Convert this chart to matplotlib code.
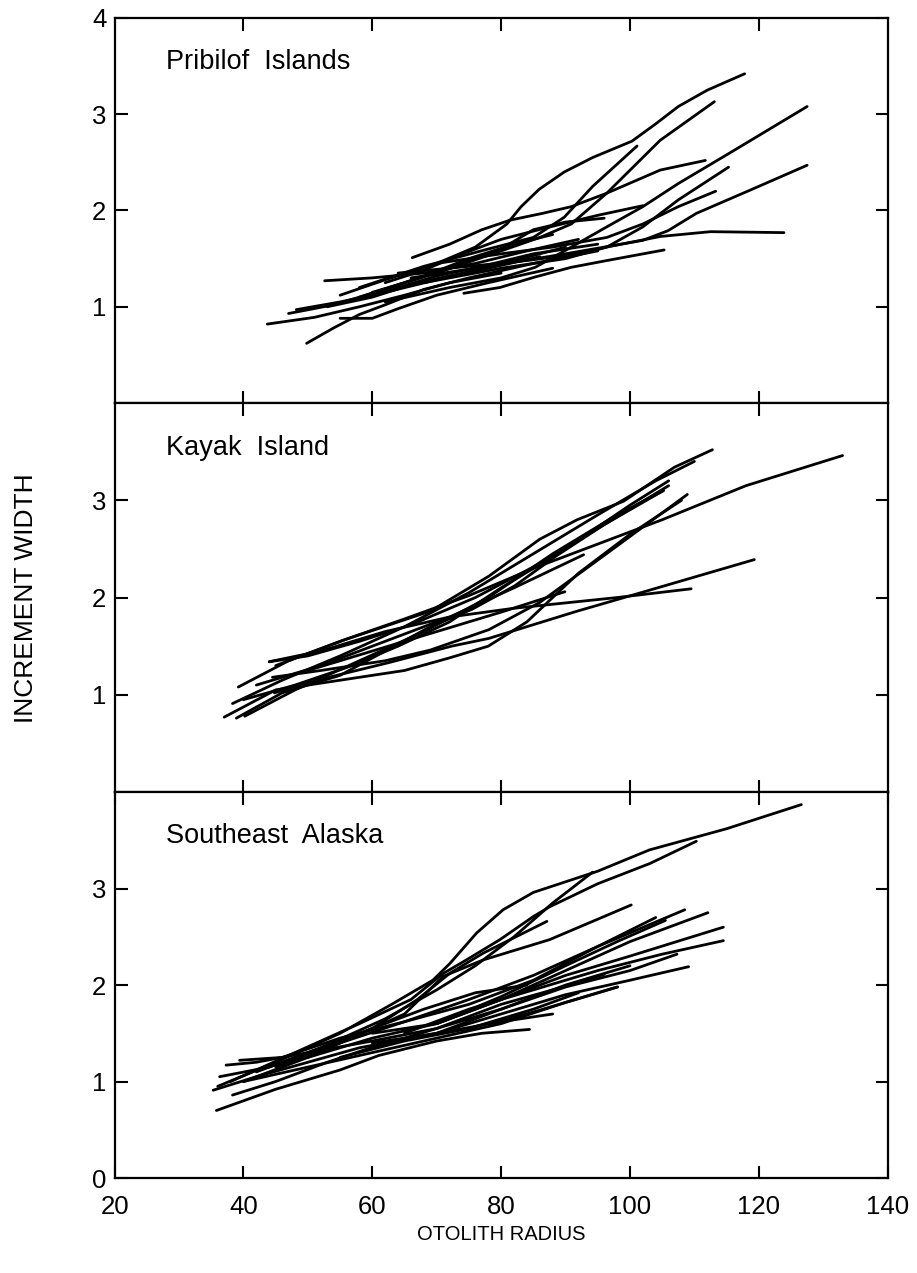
"""Otolith increment width vs otolith radius, three regions stacked."""
import matplotlib
matplotlib.use("Agg")
import matplotlib.pyplot as plt

plt.rcParams["font.family"] = ["Liberation Sans", "DejaVu Sans"]

# ---- data -------------------------------------------------------------------
X_TICKS = [20, 40, 60, 80, 100, 120, 140]
PANEL_NAMES = ["Pribilof Islands", "Kayak Island", "Southeast Alaska"]
Y_TICKS = [[1, 2, 3, 4], [1, 2, 3], [0, 1, 2, 3]]

# each entry is one fish: [(radius, increment width), ...]
PRIBILOF = [
    [(55, 1.12), (62, 1.28), (70, 1.45), (76, 1.62), (80.9, 1.86), (83.1, 2.04), (85.9, 2.22),
     (89.8, 2.40), (94.2, 2.55), (100.3, 2.72), (104, 2.9), (107.5, 3.08), (112, 3.25), (117.8, 3.42)],
    [(60, 1.15), (70, 1.35), (80, 1.58), (86, 1.72), (90.9, 1.86), (96.4, 2.18), (104.7, 2.73), (113.1, 3.13)],
    [(58, 1.2), (68, 1.42), (78, 1.6), (85, 1.72), (89.8, 1.93), (94.2, 2.25), (101.1, 2.67)],
    [(62, 1.05), (72, 1.2), (80, 1.3), (85.3, 1.41), (90.9, 1.62), (96.4, 1.83), (102, 2.04),
     (107.5, 2.28), (115.3, 2.59), (127.5, 3.08)],
    [(66, 1.3), (78, 1.42), (90, 1.55), (96, 1.62), (102, 1.69), (105.9, 1.79), (110.3, 1.97),
     (118.6, 2.21), (127.5, 2.47)],
    [(64, 1.35), (75, 1.42), (84, 1.48), (90.9, 1.54), (96.4, 1.62), (104.7, 1.73), (112.5, 1.78), (123.9, 1.77)],
    [(66.2, 1.51), (72, 1.65), (77, 1.8), (81.4, 1.90), (86.4, 1.97), (90.9, 2.04), (96.4, 2.18),
     (104.7, 2.42), (111.7, 2.52)],
    [(68, 1.25), (80, 1.4), (90, 1.5), (96.4, 1.62), (102, 1.83), (107.5, 2.11), (115.3, 2.45)],
    [(70, 1.45), (80, 1.55), (88, 1.62), (96.4, 1.72), (102, 1.86), (107.5, 2.04), (113.3, 2.20)],
    [(74.2, 1.14), (79.8, 1.20), (85.3, 1.31), (90.9, 1.41), (96.4, 1.48), (105.3, 1.59)],
    [(52.6, 1.27), (60, 1.30), (68, 1.35), (76, 1.45), (84, 1.58), (92, 1.70)],
    [(48.2, 0.97), (55, 1.05), (62, 1.15), (70, 1.28), (78, 1.40), (86, 1.52)],
    [(43.7, 0.82), (51, 0.89), (58, 1.0), (65, 1.12), (72, 1.25), (80, 1.35)],
    [(49.8, 0.62), (54, 0.78), (58, 0.92), (62, 1.02), (68, 1.18), (75, 1.30), (85, 1.45), (95, 1.58)],
    [(55, 0.88), (60, 0.88), (64, 0.98), (70, 1.12), (78, 1.25), (88, 1.40)],
    [(47, 0.93), (54, 1.02), (62, 1.18), (68, 1.32), (75, 1.50), (82, 1.65), (88, 1.75)],
    [(56, 1.05), (63, 1.18), (70, 1.32), (77, 1.42), (85, 1.55), (95, 1.65)],
    [(58, 1.1), (65, 1.25), (72, 1.40), (80, 1.60), (85, 1.80), (90, 1.88), (96, 1.92)],
    [(62, 1.25), (68, 1.38), (74, 1.55), (80, 1.70), (87, 1.82), (95, 1.95), (102, 2.05)],
    [(53, 1.0), (60, 1.1), (67, 1.25), (74, 1.35), (82, 1.48), (90, 1.62)],
]

KAYAK = [
    [(39.2, 1.08), (47, 1.35), (55.9, 1.57), (69, 1.86), (78.1, 2.22), (86, 2.60), (91.8, 2.80),
     (99, 2.99), (106.9, 3.34), (112.8, 3.52)],
    [(38.3, 0.91), (46, 1.15), (55, 1.40), (65, 1.70), (75, 2.05), (85, 2.45), (95, 2.85), (104, 3.2), (110, 3.4)],
    [(40.2, 0.78), (48, 1.05), (58, 1.35), (68, 1.65), (78, 2.0), (88, 2.45), (98, 2.85), (105.2, 3.10)],
    [(44.5, 1.18), (52, 1.25), (62, 1.35), (69, 1.46), (78.1, 1.67), (86, 1.95), (95.1, 2.39), (108.9, 3.06)],
    [(38.9, 0.76), (46, 1.02), (55, 1.2), (62, 1.45), (69, 1.70), (75.5, 1.88), (82.1, 2.12),
     (88.6, 2.43), (96, 2.75), (105.2, 3.10)],
    [(45, 1.3), (55, 1.55), (65, 1.78), (75, 2.02), (85, 2.3), (95, 2.55), (105, 2.8), (118, 3.15), (133, 3.46)],
    [(44.8, 1.02), (52.6, 1.17), (62.5, 1.33), (72.3, 1.50), (78.1, 1.58), (91.8, 1.86), (101.7, 2.05), (119.3, 2.39)],
    [(44, 1.34), (52, 1.45), (62, 1.65), (72, 1.80), (82, 1.89), (98, 2.0), (109.5, 2.09)],
    [(50, 1.25), (60, 1.45), (70, 1.65), (80, 1.85), (89.9, 2.06)],
    [(42, 1.1), (52, 1.3), (62, 1.55), (72, 1.80), (82, 2.1), (92.8, 2.44)],
    [(37, 0.77), (45, 1.05), (55, 1.15), (65, 1.25), (72, 1.38), (78, 1.50), (84, 1.75), (92, 2.25),
     (100, 2.65), (108, 3.0)],
    [(44, 1.34), (50, 1.40), (58, 1.55), (66, 1.72), (76, 2.0), (86, 2.35), (96, 2.75), (106, 3.15)],
    [(40, 0.95), (48, 1.1), (56, 1.28), (64, 1.5), (72, 1.75), (80, 2.1), (90, 2.5), (100, 2.95), (106, 3.2)],
]

SE_ALASKA = [
    [(36, 0.95), (45, 1.20), (55, 1.50), (63, 1.80), (69.4, 2.05), (72, 2.22), (76.2, 2.54), (80.3, 2.78),
     (85, 2.96), (95, 3.18), (103, 3.40), (115, 3.62), (126.6, 3.87)],
    [(38, 1.0), (48, 1.3), (58, 1.6), (66, 1.85), (71, 2.12), (74.6, 2.26), (79.8, 2.47), (85, 2.71),
     (87.5, 2.81), (95, 3.05), (103.1, 3.26), (110.3, 3.49)],
    [(42, 1.1), (52, 1.35), (62, 1.65), (70, 1.95), (76, 2.2), (82, 2.5), (88, 2.85), (94.2, 3.17)],
    [(40, 1.0), (50, 1.25), (60, 1.55), (67, 1.85), (72, 2.12), (77.2, 2.33), (87.1, 2.66)],
    [(45, 1.15), (55, 1.4), (65, 1.7), (71, 2.09), (77.2, 2.26), (87.5, 2.47), (100.2, 2.83)],
    [(55, 1.40), (65, 1.62), (75, 1.85), (85, 2.10), (95, 2.40), (108.5, 2.78)],
    [(60, 1.5), (70, 1.6), (80, 1.85), (90, 2.15), (100, 2.45), (112.1, 2.75)],
    [(50, 1.25), (60, 1.45), (70, 1.6), (80, 1.85), (90, 2.1), (100, 2.3), (114.5, 2.60)],
    [(65, 1.50), (75, 1.75), (85, 1.95), (95, 2.15), (105, 2.32), (114.5, 2.46)],
    [(70, 1.6), (80, 1.88), (90, 2.2), (98, 2.45), (105.5, 2.67)],
    [(60, 1.4), (70, 1.5), (80, 1.75), (90, 1.98), (100, 2.15), (107.3, 2.32)],
    [(70, 1.5), (80, 1.7), (90, 1.9), (100, 2.05), (109.1, 2.19)],
    [(60, 1.35), (70, 1.55), (80, 1.8), (88, 1.95), (96, 2.11)],
    [(55, 1.25), (65, 1.42), (75, 1.55), (85, 1.72), (98.1, 1.98)],
    [(35.8, 0.70), (45, 0.92), (55, 1.12), (61, 1.27), (70, 1.42), (77, 1.50), (84.4, 1.54)],
    [(40, 1.0), (50, 1.15), (60, 1.3), (70, 1.45), (80, 1.6), (90, 1.82), (98, 1.98)],
    [(35.3, 0.91), (42, 1.05), (50, 1.2), (58, 1.35), (66, 1.45), (75, 1.55), (85, 1.75), (92, 1.92)],
    [(37.3, 1.17), (42, 1.2), (50, 1.3), (60, 1.42), (70, 1.55), (80, 1.75), (90, 2.0), (100, 2.2)],
    [(39.4, 1.22), (46, 1.25), (55, 1.45), (65, 1.62), (75, 1.8), (85, 2.05), (95, 2.4), (104, 2.7)],
    [(36.3, 1.05), (44, 1.15), (52, 1.35), (60, 1.55), (68, 1.75), (76, 1.92), (84, 2.0)],
    [(38.3, 0.86), (45, 1.0), (53, 1.2), (62, 1.40), (70, 1.50), (80, 1.62), (88, 1.7)],
]

PANELS = [PRIBILOF, KAYAK, SE_ALASKA]

# ---- figure ------------------------------------------------------------------
fig = plt.figure(figsize=(9.17, 12.73), dpi=100)
left, width = 0.125, 0.843
boxes = [(0.6834, 0.3025), (0.3778, 0.3056), (0.0746, 0.3032)]

for i, (fish, name, yt) in enumerate(zip(PANELS, PANEL_NAMES, Y_TICKS)):
    bottom, height = boxes[i]
    ax = fig.add_axes([left, bottom, width, height])
    for line in fish:
        xs = [p[0] for p in line]
        ys = [p[1] for p in line]
        ax.plot(xs, ys, color="black", lw=2.0, solid_capstyle="round", solid_joinstyle="round")

    ax.set_xlim(20, 140)
    ax.set_ylim(0, 4)
    ax.set_yticks(yt)
    ax.set_xticks(X_TICKS if i == 2 else X_TICKS[1:-1])
    ax.tick_params(direction="in", length=9, width=1.5, top=True, right=True, labelsize=18.5)
    ax.tick_params(axis="y", pad=6)
    ax.tick_params(axis="x", pad=12)
    if i < 2:
        ax.tick_params(labelbottom=False)
    for sp in ax.spines.values():
        sp.set_linewidth(1.6)
    ax.text(28, 3.47, name.replace(" ", "  "), fontsize=19.5, ha="left", va="baseline")

fig.text(0.547, 0.030, "OTOLITH RADIUS", fontsize=14.5, ha="center", va="center")
fig.text(0.028, 0.530, "INCREMENT WIDTH", fontsize=19, ha="center", va="center", rotation=90)

fig.savefig("out.png", dpi=100)
